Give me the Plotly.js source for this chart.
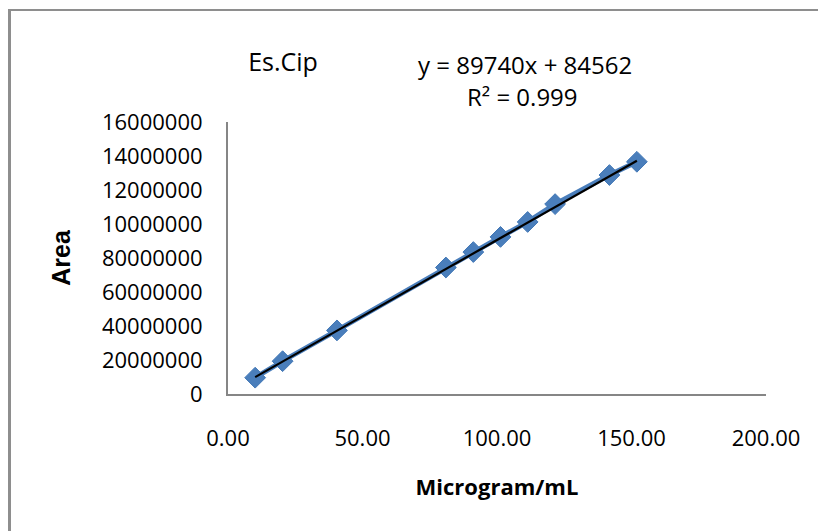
<!DOCTYPE html>
<html>
<head>
<meta charset="utf-8">
<script src="https://cdn.plot.ly/plotly-3.0.1.min.js"></script>
<style>
  html, body { margin: 0; padding: 0; background: #fff; overflow: hidden; }
  #chart { position: absolute; left: 0; top: 0; width: 818px; height: 531px; }
  #frame { position: absolute; left: 8px; top: 9px; width: 830px; height: 540px;
           border-left: 3px solid #8e8e8e; border-top: 2px solid #8e8e8e; pointer-events: none; }
</style>
</head>
<body>
<div id="chart"></div>
<div id="frame"></div>
<script>
// Data
const concentration = [10.1, 20.3, 40.5, 81.0, 91.2, 101.3, 111.4, 121.6, 141.8, 152.0];
const area = [960000, 1930000, 3740000, 7440000, 8350000, 9240000, 10120000, 11170000, 12880000, 13660000];

// Trendline as printed on the chart
const slope = 89740;
const intercept = 84562;
const equationText = 'y = 89740x + 84562';
const r2Text = 'R² = 0.999';
const chartTitle = 'Es.Cip';

// Axis ticks (labels reproduced as printed)
const yTickVals = [0, 2000000, 4000000, 6000000, 8000000, 10000000, 12000000, 14000000, 16000000];
const yTickText = ['0', '20000000', '40000000', '60000000', '80000000', '10000000', '12000000', '14000000', '16000000'];
const xTickVals = [0, 50, 100, 150, 200];

const xFirst = concentration[0];
const xLast = concentration[concentration.length - 1];
const trendX = [xFirst, xLast];
const trendY = trendX.map(v => slope * v + intercept);

const calibri = '"Open Sans", "Noto Sans", sans-serif';

const traces = [
  {
    x: concentration, y: area, type: 'scatter', mode: 'lines+markers',
    line: { color: '#4a7ebb', width: 5 },
    marker: { symbol: 'diamond', size: 16, color: '#4a7ebb', line: { color: '#4177b6', width: 1 } },
    hoverinfo: 'x+y', showlegend: false
  },
  {
    x: trendX, y: trendY, type: 'scatter', mode: 'lines',
    line: { color: '#000000', width: 2.2 },
    hoverinfo: 'skip', showlegend: false
  }
];

const layout = {
  width: 818, height: 531,
  margin: { l: 228, r: 52, t: 122, b: 137, pad: 0 },
  paper_bgcolor: '#ffffff', plot_bgcolor: '#ffffff',
  font: { family: calibri, color: '#000000', size: 22 },
  title: {
    text: chartTitle, x: 283 / 818, xanchor: 'center', xref: 'container',
    y: 1 - 62 / 531, yanchor: 'middle', yref: 'container',
    font: { family: calibri, size: 25, color: '#000000' }
  },
  xaxis: {
    range: [0, 200], tickvals: xTickVals, tickformat: '.2f',
    showline: true, linecolor: '#868686', linewidth: 2,
    showgrid: false, zeroline: false,
    ticks: 'outside', ticklen: 24, tickcolor: 'rgba(0,0,0,0)',
    tickfont: { family: calibri, size: 22, color: '#000000' },
    title: { text: '<b>Microgram/mL</b>', standoff: 28, font: { family: calibri, size: 22, color: '#000000' } },
    automargin: false, fixedrange: true
  },
  yaxis: {
    range: [0, 16000000], tickvals: yTickVals, ticktext: yTickText,
    showline: true, linecolor: '#868686', linewidth: 2,
    showgrid: false, zeroline: false,
    ticks: 'outside', ticklen: 19, tickcolor: 'rgba(0,0,0,0)',
    tickfont: { family: calibri, size: 22, color: '#000000' },
    title: { text: '<b>Area</b>', standoff: 24, font: { family: '"Liberation Sans", Arial, sans-serif', size: 25, color: '#000000' } },
    automargin: false, fixedrange: true
  },
  annotations: [
    { text: equationText, xref: 'paper', yref: 'paper', x: (524.7 - 228) / 538, y: (394 - 64) / 272,
      xanchor: 'center', yanchor: 'middle', showarrow: false, font: { family: calibri, size: 24, color: '#000000' } },
    { text: r2Text, xref: 'paper', yref: 'paper', x: (522.5 - 228) / 538, y: (394 - 96.5) / 272,
      xanchor: 'center', yanchor: 'middle', showarrow: false, font: { family: calibri, size: 24, color: '#000000' } }
  ]
};

Plotly.newPlot('chart', traces, layout, { displayModeBar: false, staticPlot: true });
</script>
</body>
</html>
